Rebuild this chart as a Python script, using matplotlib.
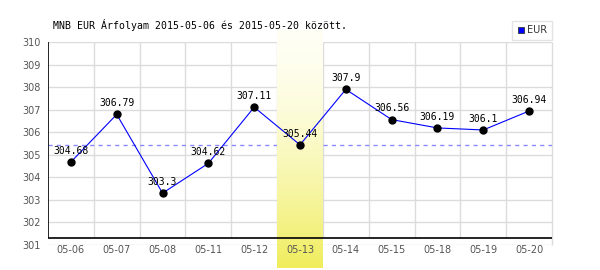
import numpy as np
import matplotlib
matplotlib.use("Agg")
import matplotlib.pyplot as plt
from matplotlib.lines import Line2D

# ---- data ----
dates = ["05-06", "05-07", "05-08", "05-11", "05-12", "05-13",
         "05-14", "05-15", "05-18", "05-19", "05-20"]
rates = [304.68, 306.79, 303.3, 304.62, 307.11, 305.44,
         307.9, 306.56, 306.19, 306.1, 306.94]
value_labels = ["304.68", "306.79", "303.3", "304.62", "307.11", "305.44",
                "307.9", "306.56", "306.19", "306.1", "306.94"]
highlight_index = 5
reference_rate = 305.44
y_ticks = list(range(301, 311))
title = "MNB EUR Árfolyam 2015-05-06 és 2015-05-20 között."
series_name = "EUR"

# ---- style ----
y_min, y_max = 301, 310
axis_floor = 301.3
grid_col = "#dcdcdc"
tick_col = "#555555"
mono = "DejaVu Sans Mono"

fig = plt.figure(figsize=(6, 2.7), dpi=100)
ax = fig.add_axes([48/600, 25/270, 504/600, 203/270])
n = len(dates)
x = np.arange(n)

for s in ax.spines.values():
    s.set_visible(False)

# horizontal grid
ax.hlines(y_ticks, -0.5, n - 0.5, colors=grid_col, linewidth=1, zorder=0.3)
# vertical grid
bounds = np.arange(1, n) - 0.5
ax.vlines(bounds, axis_floor, y_max, colors=grid_col, linewidth=1, zorder=0.3)
ax.vlines([n - 0.5], y_min, y_max, colors=grid_col, linewidth=1, zorder=0.3,
          clip_on=False)

# reference dashed line (hidden behind the highlight band)
ax.hlines([reference_rate], -0.5, n - 0.5, colors="#8a8aff", linewidth=1,
          linestyles=(0, (3, 3)), zorder=0.5)

# highlight band with gradient
grad = (np.linspace(0, 1, 256) ** 1.6).reshape(-1, 1)
top = np.array([1.0, 1.0, 0.96])
bot = np.array([0.94, 0.93, 0.36])
img = top + (bot - top) * grad[:, :, None]
img = img.reshape(256, 1, 3)
ax.imshow(img, extent=(highlight_index - 0.5, highlight_index + 0.5, 300.0, 310.53),
          aspect="auto", origin="upper", zorder=0.8, clip_on=False)
ax.set_xlim(-0.5, n - 0.5)
ax.set_ylim(y_min, y_max)

# axes lines
ax.hlines([axis_floor], -0.5, n - 0.5, colors="black", linewidth=1.2, zorder=4)
ax.vlines([-0.5], axis_floor, y_max, colors="black", linewidth=1.2, zorder=4)

# series
ax.plot(x, rates, color="#0000ff", linewidth=0.8, zorder=5)
ax.plot(x, rates, linestyle="none", marker="o", markersize=5,
        color="black", zorder=6)
for xi, yi, lab in zip(x, rates, value_labels):
    ax.annotate(lab, (xi, yi), xytext=(0, 4.5), textcoords="offset points",
                ha="center", va="bottom", fontsize=7, family=mono,
                color="black", zorder=7)

ax.set_xticks(x)
ax.set_xticklabels(dates)
ax.set_yticks(y_ticks)
ax.set_yticklabels([str(t) for t in y_ticks])
ax.tick_params(axis="both", length=0, labelsize=7, labelcolor=tick_col)
ax.tick_params(axis="y", pad=5)
ax.tick_params(axis="x", pad=0)
ax.xaxis.set_zorder(8)
ax.yaxis.set_zorder(8)

fig.text(53/600, 1 - 25/270, title, family=mono, fontsize=7.1, color="black",
         ha="left", va="center")

handle = Line2D([], [], linestyle="none", marker="s", markersize=4.5,
                markerfacecolor="#0000ff", markeredgecolor="#333333",
                markeredgewidth=0.6)
leg = fig.legend([handle], [series_name], loc="upper right",
                 bbox_to_anchor=(552/600, 1 - 21/270), fontsize=7,
                 frameon=True, fancybox=False, handlelength=0.8,
                 handletextpad=0.3, borderpad=0.45, borderaxespad=0)
leg.get_frame().set_edgecolor("#dddddd")
leg.get_frame().set_linewidth(1)
for t in leg.get_texts():
    t.set_color("#333333")

fig.savefig("out.png", dpi=100)
